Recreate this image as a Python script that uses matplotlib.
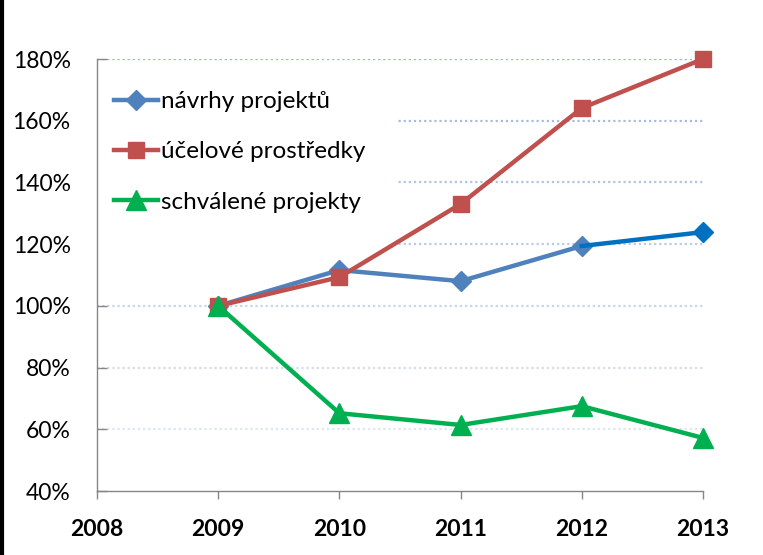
import matplotlib.pyplot as plt
from matplotlib.lines import Line2D
from matplotlib.patches import Rectangle

plt.rcParams['font.family'] = ['Lato', 'DejaVu Sans']

# data
roky = [2009, 2010, 2011, 2012, 2013]
navrhy = [100, 111.6, 108.0, 119.4, 123.9]
ucelove = [100, 109.3, 133.0, 164.1, 180.0]
schvalene = [100, 65.2, 61.4, 67.5, 57.2]
nazvy = ['návrhy projektů', 'účelové prostředky', 'schválené projekty']
y_ticks = [40, 60, 80, 100, 120, 140, 160, 180]
x_ticks = [2008, 2009, 2010, 2011, 2012, 2013]

modra = '#4F81BD'
modra2 = '#0070C0'
cervena = '#C0504D'
zelena = '#00B050'

fig = plt.figure(figsize=(7.63, 5.55), dpi=100)
ax = fig.add_axes([97/763, 1 - 491/555, 606/763, 432/555])

# mrizka - tecky, smerem dolu svetlejsi
grid_barvy = ['#FFFFFF', '#DCE6F2', '#D0DDEE', '#C6D5EA', '#B9CCE4', '#AFC5E1', '#A5BEDD', '#95B3D7']
for v, c in zip(y_ticks, grid_barvy):
    if v == 40:
        continue
    ax.plot([2008, 2013], [v, v], color=c, lw=1.6, ls=(0, (1, 1.3)), zorder=1)

# bile pozadi legendy (prekryva mrizku)
ax.add_patch(Rectangle((0, 0.553), 0.495, 0.42, transform=ax.transAxes,
                       facecolor='white', edgecolor='none', zorder=2))

lw = 3.2
ax.plot(roky[:4], navrhy[:4], color=modra, lw=lw, marker='D', ms=10, zorder=3, clip_on=False)
ax.plot(roky[3:], navrhy[3:], color=modra2, lw=lw, zorder=3, clip_on=False)
ax.plot(roky[4:], navrhy[4:], color=modra2, ls='none', marker='D', ms=10, zorder=4, clip_on=False)
ax.plot(roky, ucelove, color=cervena, lw=lw, marker='s', ms=12, zorder=3, clip_on=False)
ax.plot(roky, schvalene, color=zelena, lw=lw, marker='^', ms=15, zorder=3, clip_on=False)

ax.set_xlim(2008, 2013)
ax.set_ylim(40, 180)
ax.set_xticks(x_ticks)
ax.set_xticklabels([str(r) for r in x_ticks], fontsize=16.5, fontweight='bold')
ax.set_yticks(y_ticks)
ax.set_yticklabels([f'{v}%' for v in y_ticks], fontsize=16.5)
ax.tick_params(axis='y', direction='in', length=7, width=1, color='#868686', pad=19)
ax.tick_params(axis='x', direction='out', length=6, width=1, color='#868686', pad=14)
for s in ['top', 'right']:
    ax.spines[s].set_visible(False)
for s in ['left', 'bottom']:
    ax.spines[s].set_color('#868686')
    ax.spines[s].set_linewidth(1)

handles = [
    Line2D([], [], color=modra, lw=lw, marker='D', ms=10),
    Line2D([], [], color=cervena, lw=lw, marker='s', ms=12),
    Line2D([], [], color=zelena, lw=lw, marker='^', ms=15),
]
leg = ax.legend(handles, nazvy, loc='upper left', bbox_to_anchor=(0.0, 0.965),
                fontsize=17.5, frameon=False, handlelength=1.8,
                handletextpad=0.15, labelspacing=1.2, borderpad=0.3,
                borderaxespad=0.4)
leg.set_zorder(5)

# cerny okraj vlevo
fig.add_artist(Line2D([0.002, 0.002], [0, 1], color='black', lw=3, transform=fig.transFigure))

fig.savefig('out.png', dpi=100)
